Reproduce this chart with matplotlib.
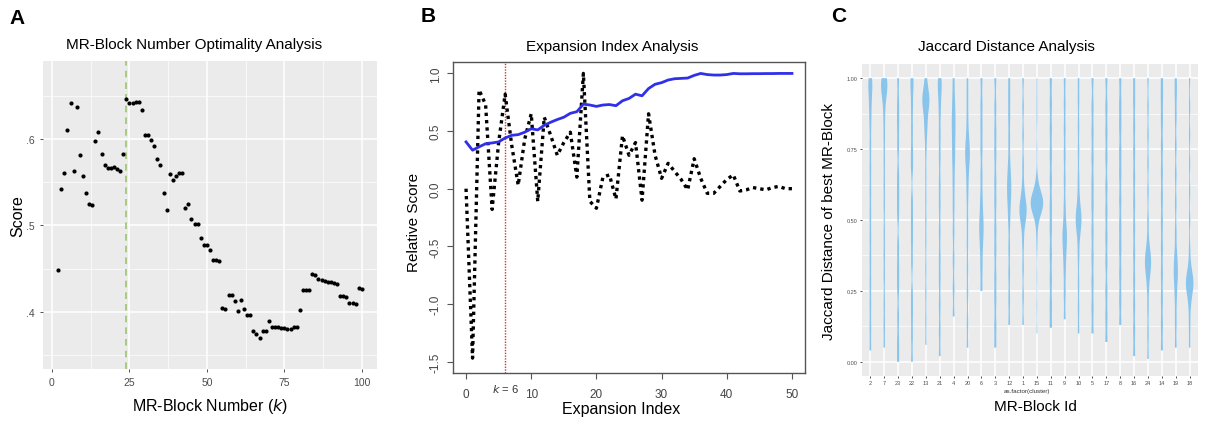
import numpy as np
import matplotlib
matplotlib.use("Agg")
import matplotlib.pyplot as plt
from matplotlib.ticker import FixedLocator

# ---------------- data ----------------
# Panel A
k_values = list(range(2, 101))
scores = [0.448, 0.542, 0.560, 0.610, 0.641, 0.563, 0.637, 0.581, 0.557, 0.537,
          0.525, 0.524, 0.598, 0.608, 0.582, 0.570, 0.5665, 0.5665, 0.568, 0.565,
          0.563, 0.582, 0.646, 0.641, 0.641, 0.643, 0.643, 0.633, 0.604, 0.604,
          0.599, 0.592, 0.577, 0.570, 0.538, 0.518, 0.559, 0.553, 0.557, 0.561,
          0.561, 0.520, 0.525, 0.507, 0.502, 0.502, 0.485, 0.477, 0.477, 0.472,
          0.460, 0.460, 0.459, 0.404, 0.403, 0.420, 0.420, 0.413, 0.401, 0.414,
          0.403, 0.396, 0.396, 0.378, 0.374, 0.370, 0.378, 0.378, 0.390, 0.383,
          0.382, 0.382, 0.381, 0.381, 0.380, 0.380, 0.382, 0.382, 0.402, 0.425,
          0.425, 0.425, 0.444, 0.443, 0.438, 0.437, 0.436, 0.435, 0.434, 0.433,
          0.432, 0.418, 0.418, 0.417, 0.410, 0.410, 0.409, 0.428, 0.426]
best_k = 24

# Panel B
expansion_index = list(range(0, 51))
blue_score = [0.406, 0.334, 0.363, 0.390, 0.397, 0.406, 0.440, 0.463, 0.469, 0.490,
              0.520, 0.510, 0.550, 0.577, 0.600, 0.620, 0.654, 0.668, 0.734, 0.726,
              0.714, 0.726, 0.730, 0.720, 0.763, 0.783, 0.820, 0.806, 0.869, 0.906,
              0.920, 0.943, 0.954, 0.957, 0.960, 0.983, 1.000, 0.990, 0.986, 0.986,
              0.990, 1.000, 0.997, 0.997, 0.998, 0.998, 0.999, 0.999, 1.000, 1.000,
              1.000]
black_score = [0.00, -1.47, 0.857, 0.73, -0.18, 0.40, 0.82, 0.38, 0.03, 0.43,
               0.65, -0.11, 0.62, 0.46, 0.29, 0.40, 0.49, 0.10, 1.00, -0.11,
               -0.17, 0.10, 0.12, -0.09, 0.46, 0.29, 0.40, -0.10, 0.65, 0.29,
               0.09, 0.22, 0.15, 0.08, -0.01, 0.26, 0.09, -0.04, -0.04, 0.02,
               0.08, 0.12, -0.02, -0.01, 0.01, 0.00, -0.01, 0.01, 0.02, 0.00,
               0.00]
chosen_expansion = 6

# Panel C
clusters = ['2', '7', '23', '22', '13', '21', '4', '20', '6', '3', '12', '1',
            '15', '11', '9', '10', '5', '17', '8', '16', '24', '14', '19', '18']
jaccard_samples = [
    [0.04, 0.12, 0.2, 0.28, 0.36, 0.44, 0.52, 0.6, 0.68, 0.76, 0.84, 0.9, 0.95, 0.98, 1.0],
    [0.05, 0.13, 0.21, 0.3, 0.38, 0.46, 0.55, 0.63, 0.71, 0.79, 0.86, 0.92, 0.95, 0.97, 0.98, 0.99, 1.0],
    [0.0, 0.07, 0.16, 0.26, 0.33, 0.41, 0.52, 0.59, 0.66, 0.76, 0.84, 0.91, 1.0],
    [0.0, 0.09, 0.17, 0.24, 0.35, 0.43, 0.5, 0.57, 0.68, 0.74, 0.82, 0.9, 0.97, 1.0],
    [0.06, 0.15, 0.24, 0.33, 0.42, 0.5, 0.58, 0.66, 0.74, 0.8, 0.84, 0.85, 0.9, 0.91, 0.92, 0.92, 0.93, 0.94, 0.97, 1.0],
    [0.02, 0.11, 0.2, 0.29, 0.37, 0.46, 0.55, 0.63, 0.72, 0.8, 0.88, 0.94, 0.98, 1.0],
    [0.16, 0.26, 0.36, 0.46, 0.55, 0.63, 0.7, 0.75, 0.8, 0.84, 0.88, 0.93, 1.0],
    [0.05, 0.14, 0.24, 0.33, 0.42, 0.5, 0.58, 0.64, 0.69, 0.72, 0.74, 0.76, 0.8, 0.86, 0.93, 1.0],
    [0.25, 0.33, 0.4, 0.45, 0.48, 0.52, 0.58, 0.66, 0.75, 0.83, 0.91, 1.0],
    [0.05, 0.13, 0.22, 0.3, 0.39, 0.47, 0.56, 0.64, 0.73, 0.81, 0.9, 1.0],
    [0.13, 0.22, 0.31, 0.4, 0.49, 0.55, 0.59, 0.62, 0.65, 0.7, 0.78, 0.86, 0.93, 1.0],
    [0.13, 0.23, 0.33, 0.42, 0.49, 0.51, 0.53, 0.54, 0.55, 0.57, 0.62, 0.7, 0.8, 0.9, 1.0],
    [0.1, 0.2, 0.3, 0.4, 0.45, 0.5, 0.52, 0.53, 0.54, 0.54, 0.55, 0.55, 0.55, 0.56, 0.56, 0.56,
     0.56, 0.56, 0.57, 0.57, 0.57, 0.58, 0.58, 0.59, 0.6, 0.62, 0.66, 0.75, 0.85, 0.92, 1.0],
    [0.12, 0.2, 0.29, 0.38, 0.47, 0.55, 0.64, 0.73, 0.82, 0.91, 1.0],
    [0.15, 0.24, 0.32, 0.38, 0.42, 0.45, 0.48, 0.55, 0.64, 0.73, 0.82, 0.91, 1.0],
    [0.1, 0.19, 0.28, 0.37, 0.44, 0.48, 0.5, 0.51, 0.53, 0.58, 0.65, 0.74, 0.83, 0.92, 1.0],
    [0.1, 0.19, 0.28, 0.37, 0.46, 0.55, 0.63, 0.72, 0.81, 0.9, 1.0],
    [0.07, 0.16, 0.25, 0.35, 0.44, 0.53, 0.62, 0.72, 0.81, 0.9, 1.0],
    [0.13, 0.22, 0.31, 0.4, 0.48, 0.57, 0.66, 0.74, 0.83, 0.91, 1.0],
    [0.02, 0.11, 0.2, 0.29, 0.38, 0.47, 0.56, 0.65, 0.74, 0.83, 0.92, 1.0],
    [0.01, 0.1, 0.19, 0.27, 0.31, 0.34, 0.35, 0.36, 0.38, 0.42, 0.5, 0.6, 0.7, 0.8, 0.9, 1.0],
    [0.04, 0.13, 0.22, 0.31, 0.4, 0.49, 0.58, 0.67, 0.76, 0.85, 0.93, 1.0],
    [0.05, 0.14, 0.22, 0.28, 0.31, 0.34, 0.38, 0.46, 0.56, 0.66, 0.76, 0.86, 0.94, 1.0],
    [0.05, 0.13, 0.2, 0.24, 0.26, 0.27, 0.28, 0.29, 0.3, 0.33, 0.4, 0.5, 0.6, 0.7, 0.8, 0.9, 1.0],
]

# ---------------- figure ----------------
W, H = 1207, 431
fig = plt.figure(figsize=(W / 100, H / 100), dpi=100)
plt.rcParams['font.family'] = ['Liberation Sans', 'DejaVu Sans']


def ax_px(x0, y0, x1, y1):
    return fig.add_axes([x0 / W, 1 - y1 / H, (x1 - x0) / W, (y1 - y0) / H])


def ftext(x, y, s, **kw):
    fig.text(x / W, 1 - y / H, s, **kw)


GG_BG = '#EBEBEB'
TICK_C = '#4D4D4D'
TITLE_FS = 11
LABEL_FS = 11.5


def gg_style(ax):
    ax.set_facecolor(GG_BG)
    for sp in ax.spines.values():
        sp.set_visible(False)
    ax.grid(True, which='major', color='white', linewidth=1.1)
    ax.grid(True, which='minor', color='white', linewidth=0.5)
    ax.set_axisbelow(True)
    ax.tick_params(which='major', color='#333333', length=2.5, width=0.6,
                   labelcolor=TICK_C)
    ax.tick_params(which='minor', length=0)


# ---------- Panel A ----------
axA = ax_px(43, 62, 377, 370)
gg_style(axA)
axA.scatter(k_values, scores, s=9, color='black', zorder=3, linewidths=0)
axA.axvline(best_k, color='#9CC46E', linestyle=(0, (4, 3)), linewidth=1.2, zorder=2)
axA.set_xlim(-2.9, 104.9)
axA.set_ylim(0.334, 0.69)
axA.set_xticks([0, 25, 50, 75, 100])
axA.xaxis.set_minor_locator(FixedLocator([12.5, 37.5, 62.5, 87.5]))
axA.set_yticks([0.4, 0.5, 0.6])
axA.set_yticklabels(['.4', '.5', '.6'])
axA.yaxis.set_minor_locator(FixedLocator([0.35, 0.45, 0.55, 0.65]))
axA.tick_params(labelsize=7.5)
ftext(17, 18, 'A', fontsize=15, fontweight='bold', ha='center', va='center')
ftext(194, 45, 'MR-Block Number Optimality Analysis', fontsize=TITLE_FS,
      ha='center', va='center')
ftext(18, 216, 'Score', fontsize=LABEL_FS, rotation=90, ha='center', va='center')
ftext(210, 407, r'MR-Block Number ($\mathit{k}$)', fontsize=LABEL_FS,
      ha='center', va='center')

# ---------- Panel B ----------
axB = ax_px(453, 63, 805, 374)
axB.plot(expansion_index, blue_score, color='#3030E8', linewidth=2.0, zorder=3)
axB.plot(expansion_index, black_score, color='black', linewidth=2.4,
         linestyle=(0, (1, 1.2)), zorder=2)
axB.axvline(chosen_expansion, color='#E03030', linestyle=(0, (1, 1)),
            linewidth=1.0, zorder=1)
axB.set_xlim(-2, 52)
axB.set_ylim(-1.5992, 1.0992)
axB.set_xticks([0, 10, 20, 30, 40, 50])
axB.set_yticks([-1.5, -1.0, -0.5, 0.0, 0.5, 1.0])
axB.set_yticklabels(['-1.5', '-1.0', '-0.5', '0.0', '0.5', '1.0'],
                    rotation=90, va='center')
for sp in axB.spines.values():
    sp.set_color('#555555')
    sp.set_linewidth(1.0)
axB.tick_params(color='#555555', length=4, width=0.8, labelcolor='#444444',
                labelsize=8.5)
axB.tick_params(axis='x', pad=7)
axB.tick_params(axis='y', pad=4)
axB.text(chosen_expansion, -0.047, r'$\mathit{k}$ = 6', transform=axB.get_xaxis_transform(),
         ha='center', va='center', fontsize=8, color='#333333')
ftext(428, 16, 'B', fontsize=15, fontweight='bold', ha='center', va='center')
ftext(612, 47, 'Expansion Index Analysis', fontsize=TITLE_FS, ha='center', va='center')
ftext(414, 222, 'Relative Score', fontsize=11, rotation=90, ha='center', va='center')
ftext(621, 410, 'Expansion Index', fontsize=LABEL_FS, ha='center', va='center')

# ---------- Panel C ----------
axC = ax_px(862, 65, 1198, 377)
gg_style(axC)
positions = np.arange(1, len(clusters) + 1)
bw = 0.035
curves = []
for samp in jaccard_samples:
    d = np.asarray(samp, dtype=float)
    yy = np.linspace(d.min(), d.max(), 300)
    dens = np.exp(-0.5 * ((yy[:, None] - d[None, :]) / bw) ** 2).sum(axis=1)
    dens /= (len(d) * bw * np.sqrt(2 * np.pi))
    curves.append((yy, dens))
gmax = max(c[1].max() for c in curves)
for pos, (yy, dens) in zip(positions, curves):
    hw = 0.45 * dens / gmax
    axC.fill_betweenx(yy, pos - hw, pos + hw, facecolor='#88C4EC',
                      edgecolor='none', linewidth=0, zorder=3)
axC.set_xlim(0.4, len(clusters) + 0.6)
axC.set_ylim(-0.05, 1.05)
axC.set_xticks(positions)
axC.set_xticklabels(clusters)
axC.set_yticks([0, 0.25, 0.5, 0.75, 1.0])
axC.set_yticklabels(['0.00', '0.25', '0.50', '0.75', '1.00'])
axC.yaxis.set_minor_locator(FixedLocator([0.125, 0.375, 0.625, 0.875]))
axC.tick_params(labelsize=4, length=1.5, pad=1.5)
ftext(1027, 392, 'as.factor(cluster)', fontsize=4.5, ha='center', va='center',
      color='#333333')
ftext(839, 17, 'C', fontsize=15, fontweight='bold', ha='center', va='center')
ftext(1006, 47, 'Jaccard Distance Analysis', fontsize=TITLE_FS, ha='center', va='center')
ftext(829, 222, 'Jaccard Distance of best MR-Block', fontsize=11, rotation=90,
      ha='center', va='center')
ftext(1035, 407, 'MR-Block Id', fontsize=11, ha='center', va='center')

fig.savefig('out.png', dpi=100)
